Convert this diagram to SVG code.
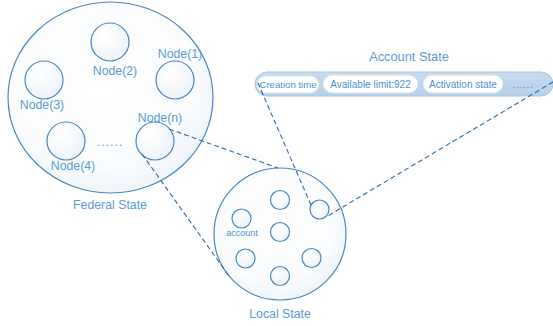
<svg xmlns="http://www.w3.org/2000/svg" width="553" height="326" viewBox="0 0 553 326">
<defs>
<radialGradient id="gBig" cx="0.45" cy="0.4" r="0.7">
<stop offset="0" stop-color="#ffffff"/>
<stop offset="0.65" stop-color="#fafcfe"/>
<stop offset="1" stop-color="#eaf0f7"/>
</radialGradient>
<radialGradient id="gSmall" cx="0.35" cy="0.3" r="0.8">
<stop offset="0" stop-color="#ffffff"/>
<stop offset="1" stop-color="#edf2f8"/>
</radialGradient>
<linearGradient id="gBar" x1="0" y1="0" x2="0" y2="1">
<stop offset="0" stop-color="#c6dbef"/>
<stop offset="1" stop-color="#b8d1ea"/>
</linearGradient>
</defs>
<style>
.big{fill:url(#gBig);stroke:#4a86c4;stroke-width:1.2}
.sm{fill:url(#gSmall);stroke:#4a86c4;stroke-width:1.2}
.lbl{font-family:"Liberation Sans",Arial,sans-serif;font-size:12.3px;fill:#5b9bd5;text-anchor:middle}
.pill{fill:#ffffff;stroke:#d8e2ec;stroke-width:1}
.pt{font-family:"Liberation Sans",Arial,sans-serif;font-size:10px;fill:#4f8fcf;text-anchor:middle}
.dash{fill:none;stroke:#2e6ca8;stroke-width:1.1;stroke-dasharray:5 3}
</style>

<g id="federal">
<ellipse class="big" cx="110.5" cy="97.5" rx="102.5" ry="95.5"/>
<text class="lbl" x="110" y="209">Federal State</text>
<text class="lbl" x="110" y="146" letter-spacing="1">......</text>
</g>
<g id="node1">
<circle class="sm" cx="175" cy="80" r="19"/>
<text class="lbl" x="180" y="58">Node(1)</text>
</g>
<g id="node2">
<circle class="sm" cx="110" cy="42" r="19"/>
<text class="lbl" x="115" y="75">Node(2)</text>
</g>
<g id="node3">
<circle class="sm" cx="44" cy="80" r="19"/>
<text class="lbl" x="42" y="109">Node(3)</text>
</g>
<g id="node4">
<circle class="sm" cx="66" cy="141" r="19"/>
<text class="lbl" x="73" y="170">Node(4)</text>
</g>
<g id="noden">
<circle class="sm" cx="155" cy="141" r="19"/>
<text class="lbl" x="160" y="122">Node(n)</text>
</g>

<g id="local">
<circle class="big" cx="280" cy="234" r="66"/>
<text class="lbl" x="280" y="318">Local State</text>
</g>
<g id="account">
<circle class="sm" cx="241.5" cy="218.5" r="9.5"/>
<text class="pt" x="242" y="236" style="font-size:9px">account</text>
</g>
<g id="acc-top"><circle class="sm" cx="280" cy="200" r="9.5"/></g>
<g id="acc-center"><circle class="sm" cx="280" cy="232" r="9.5"/></g>
<g id="acc-bottom"><circle class="sm" cx="280" cy="276" r="9.5"/></g>
<g id="acc-bl"><circle class="sm" cx="245.5" cy="258.5" r="9.5"/></g>
<g id="acc-br"><circle class="sm" cx="311.5" cy="258" r="9.5"/></g>
<g id="acc-sel"><circle class="sm" cx="319.5" cy="209.5" r="9.5"/></g>

<g id="account-state">
<text class="lbl" x="409" y="61" style="font-size:12.8px">Account State</text>
<rect x="255" y="72" width="298" height="24" rx="12" fill="url(#gBar)" stroke="#aac6e2" stroke-width="1"/>
<rect class="pill" x="257" y="76" width="62" height="17" rx="8.5"/>
<text class="pt" x="288" y="88" style="font-size:9.6px">Creation time</text>
<rect class="pill" x="323" y="75" width="95" height="18" rx="9"/>
<text class="pt" x="370.5" y="88">Available limit:922</text>
<rect class="pill" x="423" y="75" width="80" height="18" rx="9"/>
<text class="pt" x="463" y="88">Activation state</text>
<text class="pt" x="523" y="88" letter-spacing="0.8">......</text>
</g>

<g id="connectors">
<line class="dash" x1="169" y1="129" x2="278" y2="168"/>
<line class="dash" x1="142" y1="154" x2="229" y2="276"/>
<line class="dash" x1="258" y1="83" x2="311" y2="205"/>
<line class="dash" x1="553" y1="82" x2="326" y2="217"/>
</g>
</svg>
